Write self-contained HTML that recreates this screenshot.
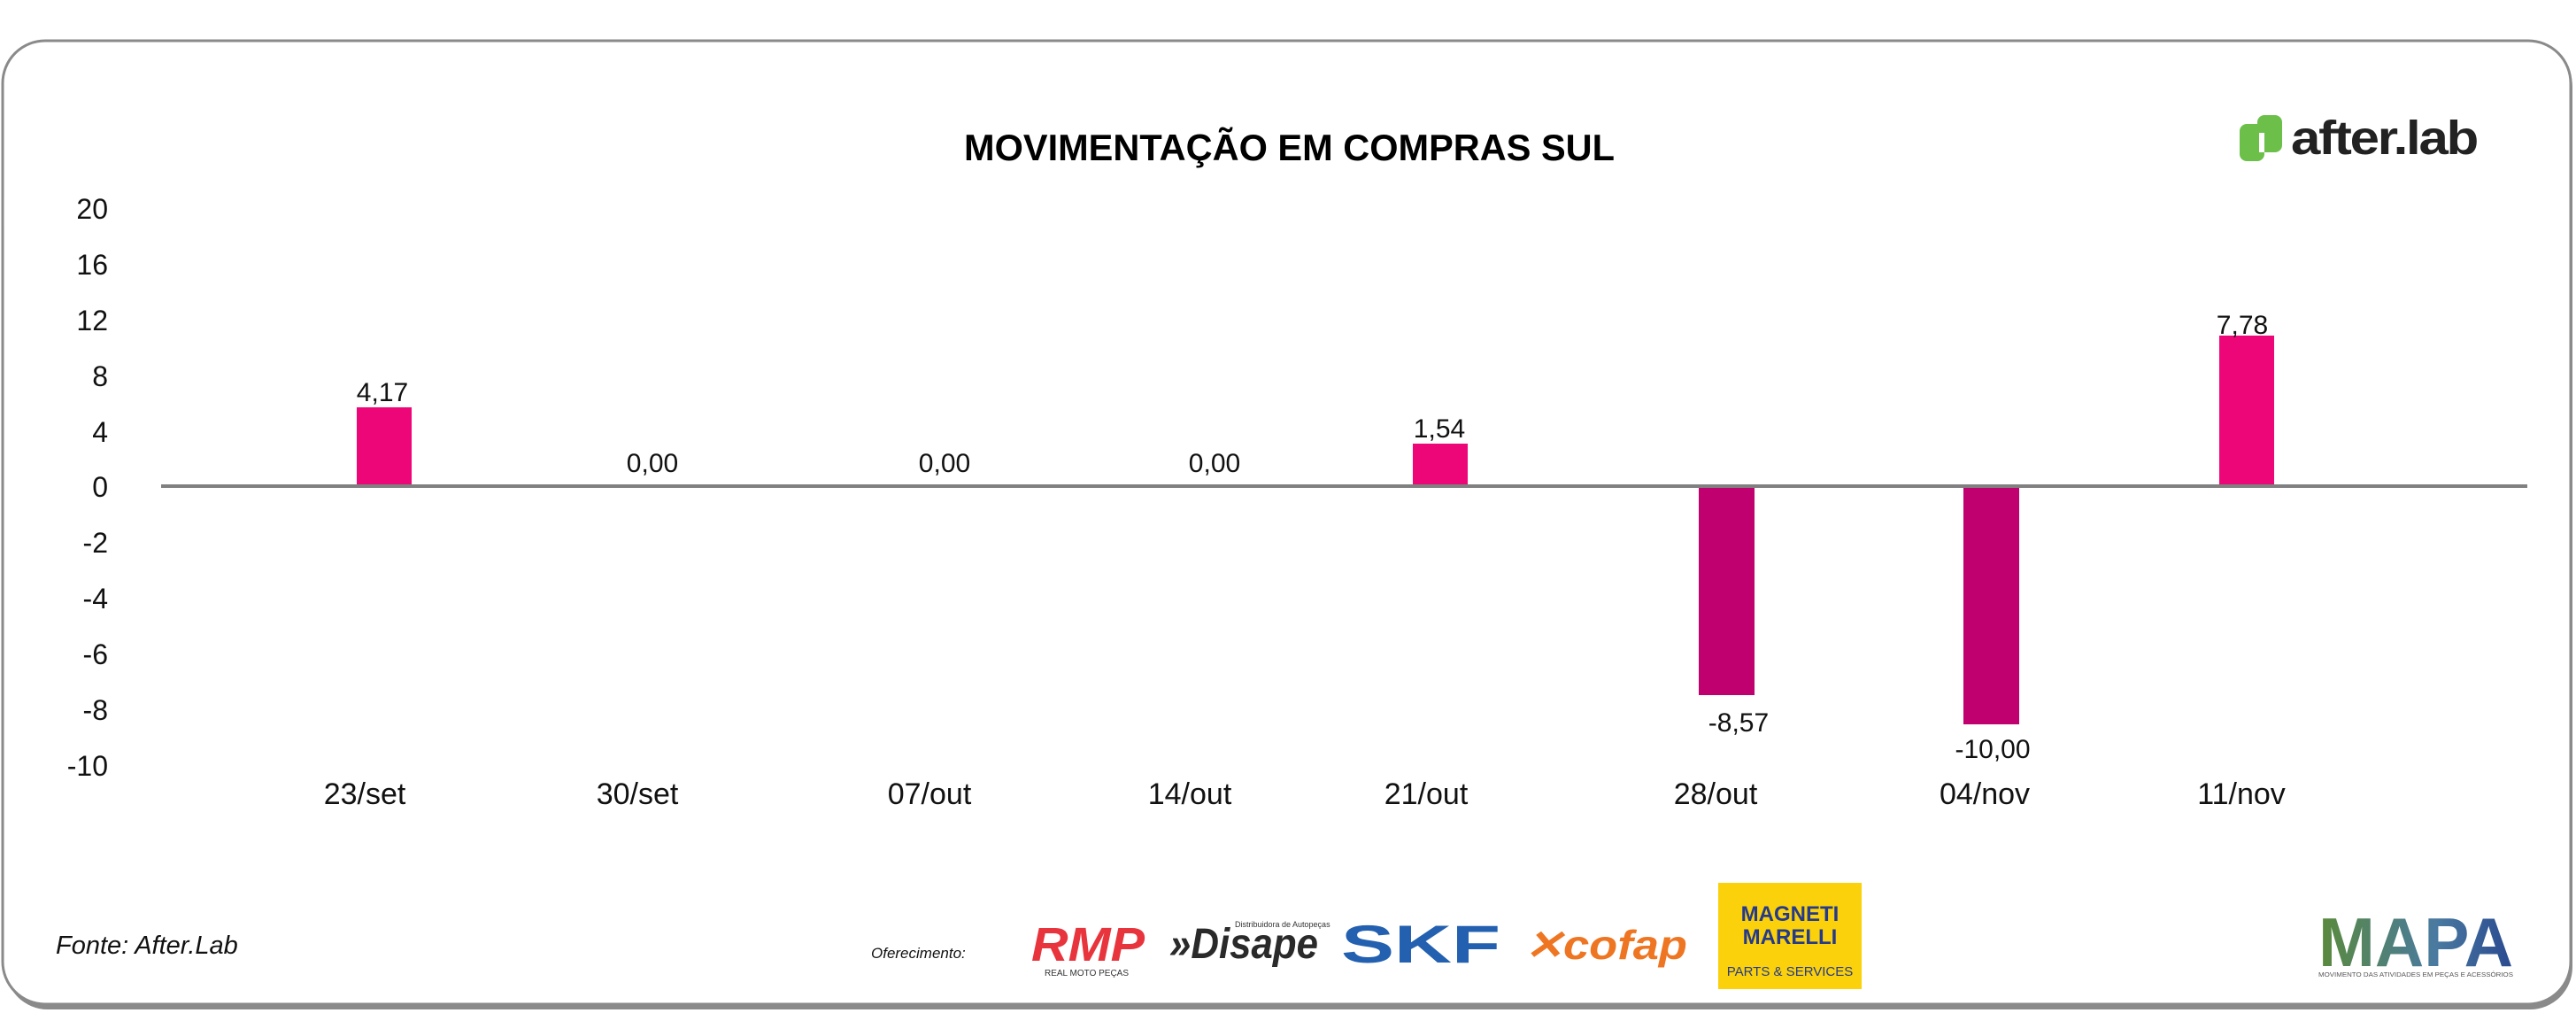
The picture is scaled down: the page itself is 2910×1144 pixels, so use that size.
<!DOCTYPE html>
<html><head><meta charset="utf-8"><style>
html,body{margin:0;padding:0;background:#fff;}
svg{display:block;}
text{font-family:"Liberation Sans",sans-serif;}
</style></head><body>
<svg width="2910" height="1144" viewBox="0 0 2910 1144" xmlns="http://www.w3.org/2000/svg">
<rect x="6" y="50" width="2900" height="1090" rx="48" fill="#8a8a8a"/>
<rect x="3" y="46" width="2901" height="1088" rx="48" fill="#fff" stroke="#8a8a8a" stroke-width="3"/>
<text x="1089" y="181" font-size="42" font-weight="bold" fill="#000" textLength="735" lengthAdjust="spacingAndGlyphs">MOVIMENTAÇÃO EM COMPRAS SUL</text>
<!-- logo -->
<rect x="2530" y="140" width="28" height="42" rx="8" fill="#6cc04a"/>
<rect x="2550" y="130" width="28" height="42" rx="8" fill="#6cc04a"/>
<rect x="2552" y="150" width="6" height="22" fill="#fff"/>
<text x="2588" y="174" font-size="54" font-weight="bold" letter-spacing="-2" fill="#222" textLength="210" lengthAdjust="spacingAndGlyphs">after.lab</text>
<!-- y labels -->
<g font-size="32" fill="#111" text-anchor="end">
<text x="122" y="247">20</text><text x="122" y="310">16</text><text x="122" y="373">12</text>
<text x="122" y="436">8</text><text x="122" y="499">4</text><text x="122" y="561">0</text>
<text x="122" y="624">-2</text><text x="122" y="687">-4</text><text x="122" y="750">-6</text>
<text x="122" y="813">-8</text><text x="122" y="876">-10</text>
</g>
<!-- bars -->
<rect x="403" y="460" width="62" height="89" fill="#ec0677"/>
<rect x="1596" y="501" width="62" height="48" fill="#ec0677"/>
<rect x="2507" y="379" width="62" height="170" fill="#ec0677"/>
<rect x="1919" y="549" width="63" height="236" fill="#c0006e"/>
<rect x="2218" y="549" width="63" height="269" fill="#c0006e"/>
<line x1="182" y1="549" x2="2855" y2="549" stroke="#808080" stroke-width="4"/>
<!-- values -->
<g font-size="30" fill="#111" text-anchor="middle">
<text x="432" y="453">4,17</text><text x="737" y="533">0,00</text><text x="1067" y="533">0,00</text>
<text x="1372" y="533">0,00</text><text x="1626" y="494">1,54</text><text x="1964" y="826">-8,57</text>
<text x="2251" y="856">-10,00</text><text x="2533" y="377">7,78</text>
</g>
<g font-size="34" fill="#111" text-anchor="middle">
<text x="412" y="908">23/set</text><text x="720" y="908">30/set</text><text x="1050" y="908">07/out</text>
<text x="1344" y="908">14/out</text><text x="1611" y="908">21/out</text><text x="1938" y="908">28/out</text>
<text x="2242" y="908">04/nov</text><text x="2532" y="908">11/nov</text>
</g>
<text x="63" y="1077" font-size="29" font-style="italic" fill="#111">Fonte: After.Lab</text>
<text x="984" y="1082" font-size="17" font-style="italic" fill="#111">Oferecimento:</text>
<!-- sponsor logos -->
<text x="1165" y="1085" font-size="54" font-weight="bold" font-style="italic" fill="#e8343c" textLength="128" lengthAdjust="spacingAndGlyphs">RMP</text>
<text x="1180" y="1102" font-size="10" fill="#333">REAL MOTO PEÇAS</text>
<text x="1321" y="1082" font-size="48" font-weight="bold" font-style="italic" fill="#2a2a2a" textLength="168" lengthAdjust="spacingAndGlyphs">»Disape</text>
<text x="1395" y="1047" font-size="9" fill="#333">Distribuidora de Autopeças</text>
<text x="1515" y="1087" font-size="60" font-weight="bold" fill="#2360b0" textLength="180" lengthAdjust="spacingAndGlyphs">SKF</text>
<text x="1722" y="1083" font-size="46" font-weight="bold" font-style="italic" fill="#ee7623" textLength="184" lengthAdjust="spacingAndGlyphs">✕cofap</text>
<rect x="1941" y="997" width="162" height="120" fill="#fad10b"/>
<text x="2022" y="1040" font-size="24" font-weight="bold" fill="#253a8a" text-anchor="middle">MAGNETI</text>
<text x="2022" y="1066" font-size="24" font-weight="bold" fill="#253a8a" text-anchor="middle">MARELLI</text>
<text x="2022" y="1102" font-size="15" fill="#253a8a" text-anchor="middle">PARTS &amp; SERVICES</text>
<defs><linearGradient id="mg" x1="0" x2="1"><stop offset="0" stop-color="#5a8a3a"/><stop offset="0.6" stop-color="#4a7aa0"/><stop offset="1" stop-color="#2a4a90"/></linearGradient></defs>
<text x="2619" y="1091" font-size="78" font-weight="bold" fill="url(#mg)" textLength="220" lengthAdjust="spacingAndGlyphs">MAPA</text>
<text x="2619" y="1103" font-size="7" fill="#555" textLength="220" lengthAdjust="spacingAndGlyphs">MOVIMENTO DAS ATIVIDADES EM PEÇAS E ACESSÓRIOS</text>
</svg>
</body></html>
